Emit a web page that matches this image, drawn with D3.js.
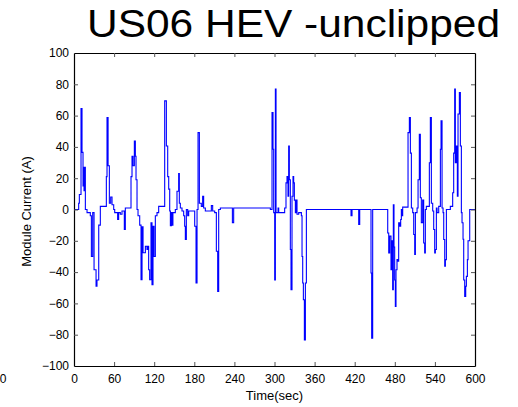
<!DOCTYPE html>
<html>
<head>
<meta charset="utf-8">
<script src="https://cdn.jsdelivr.net/npm/d3@7"></script>
<style>
  body { margin: 0; background: #fff; }
  svg { display: block; font-family: "Liberation Sans", Arial, Helvetica, sans-serif; }
</style>
</head>
<body>
<svg width="518" height="407"></svg>
<script>
// time (s) and module current (A)
var times = [0, 2, 7, 8, 10.5, 12, 13.5, 14.5, 15, 16, 17, 19.5, 24.4, 26, 28, 30, 33, 34.4, 37, 39.4,
  48.4, 49.4, 51, 52.9, 54.9, 56.9, 59.4, 60.9, 65.3, 66.8, 69.3, 71.8, 75.3, 76.8,
  85.3, 86.8, 88.3, 90.3, 91.8, 92.8, 94.3, 95.8, 98.3, 100.3, 101.8, 103.3, 106.8, 109.2, 110.7, 111.7,
  113.2, 115.2, 116.7, 118.2, 119.7, 121.7, 124.2, 126.7, 135.7, 138.2, 140.2, 141.7, 143.2, 144.2, 145.7,
  146.6, 148, 151.6, 154.1, 156.6, 157.6, 159.1, 161.6, 164.1, 165.6, 166.6, 168.1, 170.1, 171.6,
  180.6, 182.6, 184.1, 185.6, 187.6, 190.5, 192.5, 194, 196.5, 205.5, 207.5, 210.5, 213, 215, 216.5, 219,
  237, 238.9, 293.8, 296.3, 297.8, 298.8, 300.3, 301.3, 302.3,
  303.8, 305.3, 306.3, 315.2, 317.2, 318.7, 320.2, 321.2, 322.2, 323.7, 324.7, 326.2, 327.7, 328.7, 329.7,
  331.2, 332.2, 333.7, 336.2, 340.2, 341.2, 342.2, 343.2, 344.7, 346.2, 347.7,
  414.5, 416, 426, 427.5, 444.4, 445.4, 446.9,
  468.4, 469.4, 470.9, 472.3, 474.3, 475.8, 476.8, 477.8, 478.8, 479.8, 480.8, 481.8, 483.3, 484.8, 485.8,
  487.3, 488.8, 489.8, 490.8, 491.8, 499.8, 501.8, 503.3, 504.8, 506.8, 508.3, 509.8, 510.8, 513.3, 514.8,
  516.7, 518.2, 519.7, 521.7, 523.2, 524.7, 525.7, 527.2, 531.7, 533.2, 534.7, 536.7, 538.2, 539.7, 540.7,
  542.2, 543.2, 545.7, 548.2, 549.2, 550.7, 552.2, 553.2, 554.7, 555.7, 557.2, 563.1, 566.6, 568.1, 569.6,
  570.6, 572.1, 573.6, 574.6, 576.6, 578.1, 579.6, 580.6, 582.1, 583.1, 584.6, 586.1, 587.1, 588.6, 589.6,
  590.6, 592.1, 600];
var current = [0, 0, 4, 9.6, 64.5, 36.5, 15, 27, 12, 27, 0, -2, -4, -30, -2, -38.5, -49, -45, -10, 2,
  21, 58.8, 28, 4, 8, 3, 0, -2, -6.4, -2, -3, -1, -12.8, 1,
  21, 34, 28, 43.8, 34, 19, 0, -4, -10, -44.9, -11, -27.6, -23.5, -25.6, -23.5, -38.5,
  -44.9, -8.5, -48, -10.7, -30, -4, -2, 2, 69.4, 40.6, 21, 13, -1, -10.3, -2,
  -10, -2, 0, 11.7, 22.9, 4, 1, -1, -4, -10.7, -19.2, 0, -4, -1,
  -10.7, -47, 0, 49.1, 4, 2, 8.5, 1, -1, 2.5, -1, -2, -26.7, -52.3, 0, 1,
  -8.5, 1, 0, 62, 38.5, -2, -45, 76.9, -2,
  -2, 1, -2, 1, 17, 21, 8.5, 40.6, 19, -25.6, -51.3, 8.5, 21, 17, 6,
  -2, 6, -3, -2, -4, -30, -47, -57.7, -83.3, -47, 0,
  -4, 0, -9.6, 0, -40.6, -82.3, 0,
  0, -15, -27.8, -17, -38.5, -20, -51.3, 3, -24, -45, -62, -38.5, -32, -33, -8.5,
  -10.7, -6.4, 0, -4, 1.5, 49.1, 58.8, 36, 1, -2, -16, -28.8, -2, 1, 19,
  48, 7.5, -8.5, 6, -21.4, -27.8, 0, 2, 29.9, 58.8, 4, -1, -12.8, -27.8, -25.6,
  1, -2, 2, 38.5, 56.6, 1, -2, -19.2, -36.3, -32, 0, 2, 10.7, 36, 77,
  29.9, 40.6, 8.5, 61, 74.8, 40.6, -2, -8.5, -19, -45, -55.5, -49, -42.7, -32, -20,
  -20, 0, 0];
var xTicks = [0, 60, 120, 180, 240, 300, 360, 420, 480, 540, 600];
var yTicks = [-100, -80, -60, -40, -20, 0, 20, 40, 60, 80, 100];

var svg = d3.select("svg");
// plot box edges (note: "top" is a reserved window property, so prefix them)
var plotL = 74, plotR = 475, plotT = 53, plotB = 366;

var x = d3.scaleLinear().domain([0, 600]).range([plotL, plotR]);
var y = d3.scaleLinear().domain([-100, 100]).range([plotB, plotT]);

var data = times.map(function(t, i) { return { t: t, v: current[i] }; });

// the trace, drawn first so the frame sits on top
var line = d3.line()
    .x(function(d) { return x(d.t); })
    .y(function(d) { return y(d.v); })
    .curve(d3.curveStepAfter);

svg.append("path")
    .datum(data)
    .attr("fill", "none")
    .attr("stroke", "#0000ff")
    .attr("stroke-width", 1.1)
    .attr("d", line);

// axes: ticks point inward on every side
var gx = svg.append("g")
    .attr("transform", "translate(0," + plotB + ")")
    .call(d3.axisBottom(x).tickValues(xTicks).tickSizeInner(-4).tickSizeOuter(0).tickPadding(8));
var gy = svg.append("g")
    .attr("transform", "translate(" + plotL + ",0)")
    .call(d3.axisLeft(y).tickValues(yTicks).tickSizeInner(-4).tickSizeOuter(0).tickPadding(5));
var gt = svg.append("g")
    .attr("transform", "translate(0," + plotT + ")")
    .call(d3.axisTop(x).tickValues(xTicks).tickSizeInner(-4).tickSizeOuter(0).tickFormat(""));
var gr = svg.append("g")
    .attr("transform", "translate(" + plotR + ",0)")
    .call(d3.axisRight(y).tickValues(yTicks).tickSizeInner(-4).tickSizeOuter(0).tickFormat(""));

[gx, gy, gt, gr].forEach(function(g) {
  g.select(".domain").attr("stroke", "#000").attr("stroke-width", 1.2);
  g.selectAll(".tick line").attr("stroke", "#555").attr("stroke-width", 1);
  g.selectAll(".tick text")
      .attr("fill", "#000")
      .style("font-size", "12px")
      .style("font-family", "'Liberation Sans', Arial, sans-serif");
});

// hide the end ticks that would sit on the frame
gx.selectAll(".tick line").filter(function(d) { return d === 0 || d === 600; }).remove();
gt.selectAll(".tick line").filter(function(d) { return d === 0 || d === 600; }).remove();
gy.selectAll(".tick line").filter(function(d) { return d === -100 || d === 100; }).remove();
gr.selectAll(".tick line").filter(function(d) { return d === -100 || d === 100; }).remove();

// labels
svg.append("text")
    .attr("x", (plotL + plotR) / 2)
    .attr("y", 400)
    .attr("text-anchor", "middle")
    .style("font-size", "13px")
    .text("Time(sec)");

svg.append("text")
    .attr("transform", "translate(31," + ((plotT + plotB) / 2 + 2) + ") rotate(-90)")
    .attr("text-anchor", "middle")
    .style("font-size", "13px")
    .text("Module Current (A)");

svg.append("text")
    .attr("x", 87)
    .attr("y", 37)
    .attr("textLength", 413)
    .attr("lengthAdjust", "spacingAndGlyphs")
    .style("font-size", "38px")
    .text("US06 HEV -unclipped");

// stray tick label cut off at the left edge of the picture
svg.append("text")
    .attr("x", 3)
    .attr("y", 383)
    .attr("text-anchor", "middle")
    .style("font-size", "12px")
    .text("0");
</script>
</body>
</html>
